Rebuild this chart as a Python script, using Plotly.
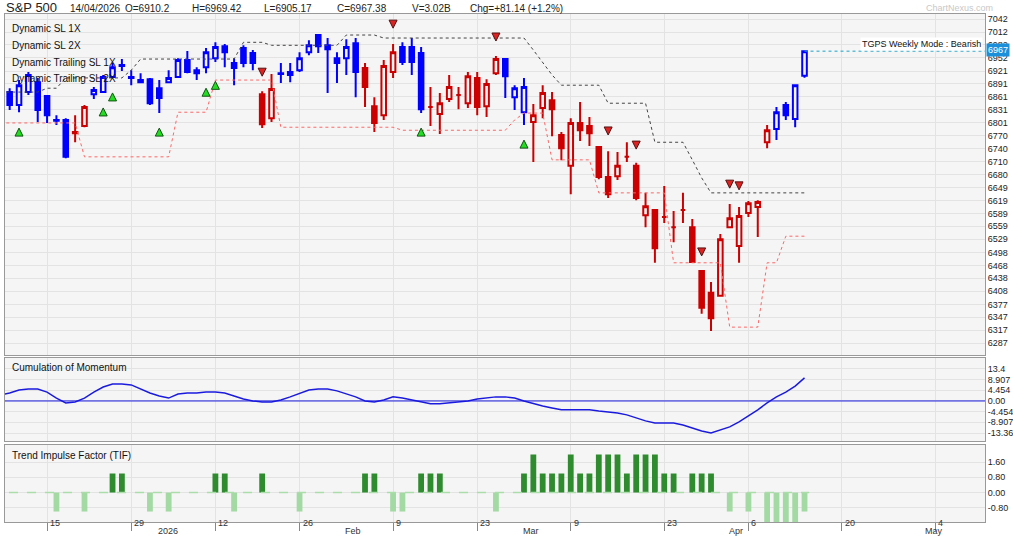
import plotly.graph_objects as go

opens = [6855,6872,6842,6872,6895,6863,6805,6807,6779,6793,6867,6872,6907,6933,6905,6900,6902,6881,6895,6907,
         6947,6916,6930,6951,6979,6940,6975,6963,6867,6811,6916,6912,6923,6965,7005,6981,6951,6951,6986,6928,
         6839,6818,6919,6977,6977,6963,6837,6821,6856,6865,6846,6905,6839,6916,6949,6860,6825,6802,6835,6853,
         6772,6700,6800,6793,6744,6674,6676,6721,6700,6585,6597,6581,6557,6597,6557,6455,6404,6397,6557,6513,
         6590,6604,6755,6786,6842,6809,6910.2]
highs = [6866,6881,6900,6919,6905,6865,6818,6811,6818,6842,6884,6912,6940,6949,6923,6916,6905,6900,6923,6951,
         6968,6930,6975,6988,6984,6951,6981,6970,6874,6914,6940,6940,6965,6993,7005,6998,6965,6995,6998,6940,
         6860,6947,6984,6988,6998,6977,6884,6870,6912,6884,6919,6919,6902,6956,6951,6888,6905,6844,6888,6872,
         6779,6811,6849,6814,6744,6734,6732,6755,6707,6637,6597,6653,6595,6637,6576,6455,6429,6541,6611,6604,
         6618,6620,6795,6837,6849,6888,6969.42]
lows = [6838,6830,6825,6865,6802,6800,6795,6718,6755,6790,6856,6870,6905,6921,6888,6893,6842,6823,6893,6905,
        6916,6900,6916,6942,6930,6888,6930,6923,6788,6802,6893,6895,6919,6958,6963,6870,6893,6912,6860,6837,
        6779,6807,6905,6935,6912,6823,6793,6774,6849,6832,6835,6818,6814,6912,6858,6830,6795,6709,6811,6769,
        6713,6634,6758,6746,6669,6625,6667,6709,6620,6557,6474,6567,6522,6567,6474,6355,6315,6397,6555,6474,
        6581,6534,6741,6760,6807,6790,6905.17]
closes = [6845,6842,6888,6912,6830,6818,6807,6721,6776,6837,6877,6907,6930,6935,6907,6895,6846,6858,6905,6947,
          6919,6923,6965,6977,6965,6928,6940,6940,6797,6879,6914,6919,6951,6981,6979,6972,6940,6977,6919,6884,
          6800,6933,6965,6942,6942,6832,6837,6846,6884,6865,6909,6837,6891,6949,6909,6881,6884,6818,6870,6832,
          6741,6800,6783,6776,6674,6634,6700,6721,6625,6606,6508,6581,6557,6597,6476,6369,6345,6529,6578,6583,
          6613,6616,6783,6825,6818,6888,6967.38]
trend = ["B"]*8 + ["R"]*2 + ["B"]*18 + ["R"]*2 + ["B"]*9 + ["R"]*4 + ["B"]*3 + ["R"]*8 + ["B"]*3 + ["R"]*26 + ["B"]*4

sl_black = [6872]*5 + [6881]*2 + [6905]*7 + [6923] + [6949]*11 + [6988]*3 + [6981]*8 + [7005]*4 + [6998]*16 + \
           [6970, 6942, 6912] + [6888]*5 + [6846]*5 + [6755]*4 + [6714, 6672] + [6637]*11
sl_red = [6800]*9 + [6721]*10 + [6825]*4 + [6900]*7 + [6790]*13 + [6783]*12 + [6807] + [6823]*3 + [6714]*5 + \
         [6637]*8 + [6474]*6 + [6324]*4 + [6474]*2 + [6536]*3

up_idx = [2, 11, 12, 17, 22, 23, 45, 56]
up_val = [6788, 6835, 6870, 6788, 6881, 6897, 6788, 6760]
dn_idx = [28, 42, 53, 65, 68, 75, 78, 79]
dn_val = [6909, 7021, 6991, 6772, 6739, 6490, 6648, 6644]

momentum = [2.5,3.3,4.6,5.0,5.0,3.7,1.2,-0.8,-0.4,1.2,3.7,5.8,7.1,7.1,6.7,5.0,3.3,2.1,1.2,2.9,
            3.3,3.3,3.7,3.7,3.3,2.1,0.8,0,-0.4,-0.4,0.4,1.7,3.3,4.6,5.0,5.0,4.2,2.9,1.7,0,
            -0.4,0.4,1.7,1.2,0.4,-0.4,-1.2,-1.2,-0.8,-0.4,0,0.8,1.2,1.7,1.7,1.2,0,-1.2,-2.1,-2.9,
            -3.7,-3.7,-3.7,-3.7,-4.2,-4.6,-5.0,-5.8,-7.1,-8.3,-9.2,-9.2,-9.2,-10.0,-11.2,-12.5,-13.3,-12.1,-10.8,-8.7,
            -6.2,-3.7,-0.8,1.7,3.7,6.2,9.6]

tif_neg1 = [6, 9, 16, 18, 25, 32, 42, 43, 53, 78, 80, 86]
tif_neg2 = [82, 83, 84, 85]
tif_pos1 = [12, 13, 23, 24, 28, 39, 40, 45, 46, 47, 56, 58, 59, 60, 62, 63, 67, 71, 72, 74, 75, 76]
tif_pos2 = [57, 61, 64, 65, 66, 68, 69, 70]

price_ticks = [7042,7012,6982,6952,6921,6891,6861,6831,6801,6770,6740,6710,6680,6649,6619,6589,6559,6529,
               6498,6468,6438,6408,6377,6347,6317,6287]
mom_ticks = [13.4, 8.907, 4.454, 0.0, -4.454, -8.907, -13.36]
mom_tick_text = ["13.4", "8.907", "4.454", "0.00", "-4.454", "-8.907", "-13.36"]
tif_ticks = [1.6, 0.8, 0.0, -0.8]
tif_tick_text = ["1.60", "0.80", "0.00", "-0.80"]
day_ticks = [5, 14, 23, 32, 42, 51, 61, 71, 80, 90, 100]
day_labels = ["15", "29", "12", "26", "9", "23", "9", "23", "6", "20", "4"]
month_ticks = [17, 37, 56, 78, 99]
month_labels = ["2026", "Feb", "Mar", "Apr", "May"]

FONT = "Liberation Sans"
BLUE = "#0000ff"; RED = "#cc0000"; BG = "#f5f5f5"
n = len(closes)
fig = go.Figure()
for code, col in (("B", BLUE), ("R", RED)):
    ids = [i for i, t in enumerate(trend) if t == code]
    fig.add_trace(go.Candlestick(
        x=ids, open=[opens[i] for i in ids], high=[highs[i] for i in ids],
        low=[lows[i] for i in ids], close=[closes[i] for i in ids],
        increasing=dict(line=dict(color=col, width=2), fillcolor=BG),
        decreasing=dict(line=dict(color=col, width=2), fillcolor=col),
        whiskerwidth=0, xaxis="x", yaxis="y", showlegend=False, hoverinfo="skip"))
fig.add_trace(go.Scatter(x=list(range(n)), y=sl_black, mode="lines",
                         line=dict(color="#444", width=1, dash="dot"), xaxis="x", yaxis="y"))
fig.add_trace(go.Scatter(x=list(range(n)), y=sl_red, mode="lines",
                         line=dict(color="#ff6666", width=1, dash="dot"), xaxis="x", yaxis="y"))
fig.add_trace(go.Scatter(x=up_idx, y=up_val, mode="markers",
                         marker=dict(symbol="arrow-up", size=8, color="#22dd22", line=dict(color="#115511", width=1)),
                         xaxis="x", yaxis="y"))
fig.add_trace(go.Scatter(x=dn_idx, y=dn_val, mode="markers",
                         marker=dict(symbol="arrow-down", size=8, color="#dd2222", line=dict(color="#551111", width=1)),
                         xaxis="x", yaxis="y"))
fig.add_trace(go.Scatter(x=[n - 1, 106], y=[closes[-1]] * 2, mode="lines",
                         line=dict(color="#1ba1c9", width=1, dash="dot"), xaxis="x", yaxis="y"))
fig.add_trace(go.Scatter(x=list(range(n)), y=momentum, mode="lines", line=dict(color="#1a1adf", width=1.5),
                         xaxis="x2", yaxis="y2"))
fig.add_trace(go.Scatter(x=[-1, 106], y=[0, 0], mode="lines", line=dict(color="#1a1adf", width=1),
                         xaxis="x2", yaxis="y2"))
fig.add_trace(go.Scatter(x=[-1, n - 0.5], y=[0, 0], mode="lines", line=dict(color="#aaddaa", width=1.5, dash="dash"),
                         xaxis="x3", yaxis="y3"))
for ids, v, col in ((tif_pos1, 1, "#2e8b2e"), (tif_pos2, 2, "#2e8b2e"), (tif_neg1, -1, "#a3d9a3"), (tif_neg2, -2, "#a3d9a3")):
    fig.add_trace(go.Bar(x=ids, y=[v] * len(ids), width=0.62, marker=dict(color=col, line_width=0),
                         xaxis="x3", yaxis="y3"))

grid = "#e3e3e3"
axcommon = dict(showgrid=True, gridcolor=grid, zeroline=False, showline=True, linecolor="#999", mirror=True,
                automargin=False, tickfont=dict(size=9, color="#222", family=FONT))
xr = [0.5, 105.3]
fig.update_layout(
    width=1013, height=543, margin=dict(l=5, r=28, t=14, b=21),
    paper_bgcolor="white", plot_bgcolor=BG, showlegend=False, barmode="overlay",
    xaxis=dict(domain=[0, 1], range=xr, anchor="y", tickvals=day_ticks, showticklabels=False,
               rangeslider=dict(visible=False), **axcommon),
    xaxis2=dict(domain=[0, 1], range=xr, anchor="y2", matches="x", tickvals=day_ticks, showticklabels=False, **axcommon),
    xaxis3=dict(domain=[0, 1], range=xr, anchor="y3", matches="x", tickvals=day_ticks, showticklabels=False,
                ticks="outside", ticklen=8, tickcolor="#888", **axcommon),
    yaxis=dict(domain=[0.3287, 1], range=[6259, 7054], side="right", tickvals=price_ticks, **axcommon),
    yaxis2=dict(domain=[0.1594, 0.3228], range=[-16.7, 17.9], side="right", tickvals=mom_ticks,
                ticktext=mom_tick_text, **axcommon),
    yaxis3=dict(domain=[0, 0.1516], range=[-1.55, 2.5], side="right", tickvals=tif_ticks,
                ticktext=tif_tick_text, **axcommon),
)
for tr in fig.data:
    if isinstance(tr, (go.Scatter, go.Bar)):
        tr.update(showlegend=False, hoverinfo="skip")

def px(x): return (x - 5) / 980
def py(y): return (522 - y) / 508
ann = []
def text(xp, yp, s, size=10, color="#222", xanchor="left", **kw):
    ann.append(dict(x=px(xp), y=py(yp), xref="paper", yref="paper", text=s, showarrow=False,
                    xanchor=xanchor, yanchor="middle", font=dict(size=size, color=color, family=FONT), **kw))
text(4, 7, "S&P 500", 13)
for xx, s in [(68, "14/04/2026"), (123, "O=6910.2"), (190, "H=6969.42"), (262, "L=6905.17"),
              (335, "C=6967.38"), (410, "V=3.02B"), (468, "Chg=+81.14 (+1.2%)")]:
    text(xx, 8, s, 10)
text(924, 8, "ChartNexus.com", 9, "#c8c8c8")
for yy, s in [(29, "Dynamic SL 1X"), (45, "Dynamic SL 2X"), (62, "Dynamic Trailing SL 1X"), (78, "Dynamic Trailing SL 2X")]:
    text(10, yy, s, 10, "#111")
text(10, 367, "Cumulation of Momentum", 10, "#111")
text(10, 455, "Trend Impulse Factor (TIF)", 10, "#111")
text(983, 44, "TGPS Weekly Mode : Bearish", 9, "#111", xanchor="right", bgcolor="white")
text(986, 50, "6967", 9, "white", bgcolor="#1b8fd9")
for t, s in zip(day_ticks, day_labels):
    ann.append(dict(x=t, y=py(530), xref="x3", yref="paper", text=s, showarrow=False, xanchor="left",
                    xshift=1, font=dict(size=9, color="#333", family=FONT)))
for t, s in zip(month_ticks, month_labels):
    ann.append(dict(x=t, y=py(538), xref="x3", yref="paper", text=s, showarrow=False, xanchor="left",
                    xshift=-3, font=dict(size=9, color="#333", family=FONT)))
fig.update_layout(annotations=ann)
fig.write_html("out.html", config={"displayModeBar": False},
               post_script="document.body.style.margin='0px';")
